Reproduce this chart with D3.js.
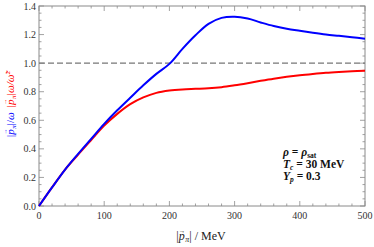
<!DOCTYPE html>
<html>
<head>
<meta charset="utf-8">
<script src="https://cdn.jsdelivr.net/npm/d3@7"></script>
<style>
  body { margin: 0; background: #fff; }
</style>
</head>
<body>
<div id="chart"></div>
<script>
let width = 374,
  height = 247;

let margin = {left: 39, right: 9, top: 6, bottom: 41};

// momentum |p| in MeV
let momentum = [0, 20, 40, 60, 80, 100, 120, 140, 160, 180, 200, 220, 240, 260, 280, 300, 320, 340, 360, 380, 400, 420, 440, 460, 480, 500];
// |p|/omega (blue)
let blueVals = [0, 0.13, 0.255, 0.365, 0.47, 0.575, 0.67, 0.758, 0.845, 0.925, 0.995, 1.10, 1.195, 1.275, 1.317, 1.325, 1.312, 1.285, 1.26, 1.24, 1.226, 1.213, 1.201, 1.191, 1.181, 1.171];
// |p| omega / omega~^2 (red)
let redVals = [0, 0.13, 0.255, 0.36, 0.462, 0.563, 0.645, 0.713, 0.76, 0.792, 0.808, 0.816, 0.82, 0.824, 0.832, 0.845, 0.86, 0.876, 0.891, 0.904, 0.915, 0.924, 0.932, 0.938, 0.943, 0.947];

let xTicks = [0, 100, 200, 300, 400, 500];
let yTicks = [0, 0.2, 0.4, 0.6, 0.8, 1.0, 1.2, 1.4];
let refLine = 1.0;

let serif = "'Liberation Serif', 'Times New Roman', 'DejaVu Serif', serif";

let svg = d3.select("#chart")
  .append("svg")
  .attr("width", width)
  .attr("height", height)
  .attr("font-family", serif);

let x = d3.scaleLinear()
  .domain([0, 500])
  .range([margin.left, width - margin.right]);

let y = d3.scaleLinear()
  .domain([0, 1.4])
  .range([height - margin.bottom, margin.top]);

let frameColor = "#8a8a8a";

// minor + major ticks, all four sides, pointing inward
let xMinor = d3.range(0, 501, 20);
let yMinor = d3.range(0, 1.401, 0.05);

let tickG = svg.append("g")
  .attr("stroke", frameColor)
  .attr("stroke-width", 0.8);

xMinor.forEach(v => {
  let major = xTicks.includes(v);
  let len = major ? 5 : 2.5;
  tickG.append("line")
    .attr("x1", x(v)).attr("x2", x(v))
    .attr("y1", y(0)).attr("y2", y(0) - len);
  tickG.append("line")
    .attr("x1", x(v)).attr("x2", x(v))
    .attr("y1", y(1.4)).attr("y2", y(1.4) + len);
});

yMinor.forEach(v => {
  let major = yTicks.some(t => Math.abs(t - v) < 1e-6);
  let len = major ? 5 : 2.5;
  tickG.append("line")
    .attr("y1", y(v)).attr("y2", y(v))
    .attr("x1", x(0)).attr("x2", x(0) + len);
  tickG.append("line")
    .attr("y1", y(v)).attr("y2", y(v))
    .attr("x1", x(500)).attr("x2", x(500) - len);
});

svg.append("rect")
  .attr("x", x(0))
  .attr("y", y(1.4))
  .attr("width", x(500) - x(0))
  .attr("height", y(0) - y(1.4))
  .attr("fill", "none")
  .attr("stroke", frameColor)
  .attr("stroke-width", 1);

// tick labels
svg.append("g")
  .selectAll("text")
  .data(xTicks)
  .join("text")
  .attr("x", d => x(d))
  .attr("y", y(0) + 13)
  .attr("text-anchor", "middle")
  .attr("font-size", 10)
  .attr("fill", "#333")
  .text(d => d);

svg.append("g")
  .selectAll("text")
  .data(yTicks)
  .join("text")
  .attr("x", x(0) - 3)
  .attr("y", d => y(d) + 3.5)
  .attr("text-anchor", "end")
  .attr("font-size", 10)
  .attr("fill", "#333")
  .text(d => d.toFixed(1));

// dashed reference line
svg.append("line")
  .attr("x1", x(0))
  .attr("x2", x(500))
  .attr("y1", y(refLine))
  .attr("y2", y(refLine))
  .attr("stroke", "#777")
  .attr("stroke-width", 1.4)
  .attr("stroke-dasharray", "6,3");

let line = d3.line()
  .x(d => x(d[0]))
  .y(d => y(d[1]))
  .curve(d3.curveCatmullRom.alpha(0.5));

svg.append("path")
  .datum(momentum.map((m, i) => [m, redVals[i]]))
  .attr("d", line)
  .attr("fill", "none")
  .attr("stroke", "#ff0000")
  .attr("stroke-width", 2);

svg.append("path")
  .datum(momentum.map((m, i) => [m, blueVals[i]]))
  .attr("d", line)
  .attr("fill", "none")
  .attr("stroke", "#0000ff")
  .attr("stroke-width", 2);

// |p_pi| with a small arrow over p
function pVec(t, fs) {
  t.append("tspan").text("|");
  t.append("tspan").attr("font-style", "italic").text("p");
  t.append("tspan").attr("font-size", fs * 0.55).attr("dx", -fs * 0.5).attr("dy", -fs * 0.62).text("→");
  t.append("tspan").attr("font-style", "italic").attr("font-size", fs * 0.65).attr("dx", 0).attr("dy", fs * 0.62 + 2).text("π");
  t.append("tspan").attr("dy", -2).text("|");
}

// x axis title
let xt = svg.append("text")
  .attr("x", 201)
  .attr("y", 240)
  .attr("text-anchor", "middle")
  .attr("font-size", 12)
  .attr("fill", "#222");
pVec(xt, 12);
xt.append("tspan").text(" / MeV");

// y axis title (rotated, blue then red)
let yt = svg.append("text")
  .attr("transform", "translate(14," + 104 + ") rotate(-90)")
  .attr("text-anchor", "middle")
  .attr("font-size", 11);
let ytb = yt.append("tspan").attr("fill", "#0000ff");
pVec(ytb, 11);
ytb.append("tspan").text("/");
ytb.append("tspan").attr("font-style", "italic").text("ω");
let ytr = yt.append("tspan").attr("fill", "#ff0000").attr("dx", 5);
pVec(ytr, 11);
ytr.append("tspan").attr("font-style", "italic").text("ω/ω\u0303");
ytr.append("tspan").attr("font-size", 7).attr("dy", -4).text("2");

// annotation
let ann = svg.append("g")
  .attr("font-size", 11.5)
  .attr("font-weight", "bold")
  .attr("fill", "#111");

let a1 = ann.append("text").attr("x", 283).attr("y", 156);
a1.append("tspan").attr("font-style", "italic").text("ρ");
a1.append("tspan").text(" = ");
a1.append("tspan").attr("font-style", "italic").text("ρ");
a1.append("tspan").attr("font-size", 7.5).attr("dy", 1.5).text("sat");

let a2 = ann.append("text").attr("x", 283).attr("y", 168);
a2.append("tspan").attr("font-style", "italic").text("T");
a2.append("tspan").attr("font-style", "italic").attr("font-size", 7.5).attr("dy", 1.5).text("c");
a2.append("tspan").attr("dy", -1.5).text(" = 30 MeV");

let a3 = ann.append("text").attr("x", 283).attr("y", 180);
a3.append("tspan").attr("font-style", "italic").text("Y");
a3.append("tspan").attr("font-style", "italic").attr("font-size", 7.5).attr("dy", 1.5).text("p");
a3.append("tspan").attr("dy", -1.5).text(" = 0.3");
</script>
</body>
</html>
